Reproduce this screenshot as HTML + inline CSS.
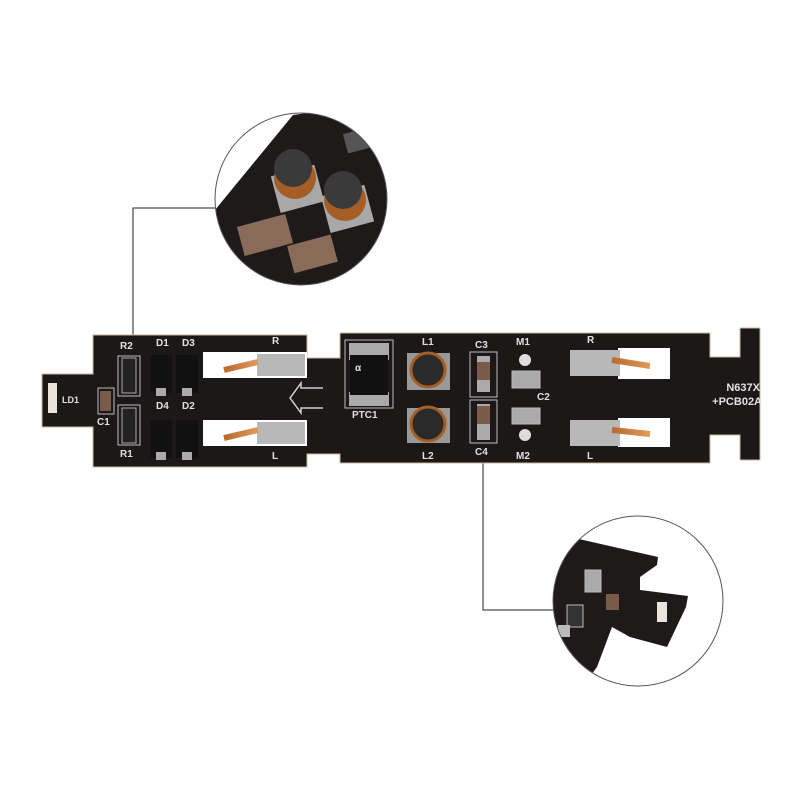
<!DOCTYPE html>
<html><head><meta charset="utf-8"><style>
html,body{margin:0;padding:0;background:#fff;width:800px;height:800px;overflow:hidden}
svg{display:block}
text{font-family:"Liberation Sans",sans-serif;fill:#e0e0e0;font-weight:bold}
</style></head><body>
<svg width="800" height="800" viewBox="0 0 800 800" xmlns="http://www.w3.org/2000/svg">
<defs>
<clipPath id="c1"><circle cx="301" cy="199" r="86"/></clipPath>
<clipPath id="c2"><circle cx="638" cy="601" r="85"/></clipPath>
<linearGradient id="cu" x1="0" x2="1"><stop offset="0" stop-color="#b86a30"/><stop offset="1" stop-color="#e09a5a"/></linearGradient>
</defs>
<!-- leader lines -->
<polyline points="215,208 133,208 133,362" fill="none" stroke="#222" stroke-width="1"/>
<polyline points="483,420 483,610 553,610" fill="none" stroke="#222" stroke-width="1"/>

<!-- board -->
<path d="M42,374 H93 V335 H307 V358 H340 V333 H710 V357 H740 V328 H760 V460 H740 V435 H710 V463 H340 V454 H307 V467 H93 V427 H42 Z" fill="#1c1818" stroke="#c8b89a" stroke-width="1"/>

<!-- windows left -->
<rect x="203" y="352" width="104" height="26" fill="#fff"/>
<rect x="203" y="420" width="104" height="26" fill="#fff"/>
<rect x="257" y="354" width="48" height="22" fill="#b8b8b8"/>
<rect x="257" y="422" width="48" height="22" fill="#b8b8b8"/>
<path d="M224,370 L258,362" stroke="url(#cu)" stroke-width="6" fill="none"/>
<path d="M224,438 L258,430" stroke="url(#cu)" stroke-width="6" fill="none"/>
<!-- windows right -->
<rect x="618" y="348" width="52" height="31" fill="#fff"/>
<rect x="618" y="418" width="52" height="29" fill="#fff"/>
<rect x="570" y="350" width="50" height="26" fill="#b8b8b8"/>
<rect x="570" y="420" width="50" height="26" fill="#b8b8b8"/>
<path d="M612,360 L650,366" stroke="url(#cu)" stroke-width="6" fill="none"/>
<path d="M612,430 L650,434" stroke="url(#cu)" stroke-width="6" fill="none"/>

<!-- left components -->
<rect x="48" y="383" width="9" height="30" fill="#e8e4dc"/>
<rect x="98" y="388" width="16" height="26" fill="none" stroke="#bbb"/>
<rect x="100" y="391" width="11" height="20" fill="#7a5a48"/>
<rect x="118" y="356" width="22" height="40" fill="none" stroke="#bbb"/>
<rect x="122" y="358" width="14" height="35" fill="#222" stroke="#aaa"/>
<rect x="118" y="405" width="22" height="40" fill="none" stroke="#bbb"/>
<rect x="122" y="408" width="14" height="35" fill="#222" stroke="#aaa"/>
<rect x="150" y="355" width="22" height="38" fill="#111"/>
<rect x="176" y="355" width="22" height="38" fill="#111"/>
<rect x="150" y="420" width="22" height="38" fill="#111"/>
<rect x="176" y="420" width="22" height="38" fill="#111"/>
<rect x="156" y="388" width="10" height="8" fill="#aaa"/><rect x="182" y="388" width="10" height="8" fill="#aaa"/>
<rect x="156" y="452" width="10" height="8" fill="#aaa"/><rect x="182" y="452" width="10" height="8" fill="#aaa"/>
<path d="M323,388 H301 V383 L290,398 L301,413 V408 H323" fill="none" stroke="#ccc" stroke-width="1.5"/>
<text x="120" y="349" font-size="10">R2</text>
<text x="156" y="346" font-size="10">D1</text>
<text x="182" y="346" font-size="10">D3</text>
<text x="272" y="344" font-size="10">R</text>
<text x="62" y="403" font-size="9">LD1</text>
<text x="97" y="425" font-size="10">C1</text>
<text x="156" y="409" font-size="10">D4</text>
<text x="182" y="409" font-size="10">D2</text>
<text x="120" y="457" font-size="10">R1</text>
<text x="272" y="459" font-size="10">L</text>

<!-- right components -->
<rect x="345" y="340" width="48" height="68" fill="none" stroke="#bbb"/>
<rect x="349" y="343" width="40" height="17" fill="#aaa"/>
<rect x="349" y="392" width="40" height="14" fill="#aaa"/>
<rect x="350" y="355" width="38" height="40" fill="#111"/>
<text x="355" y="371" font-size="10" fill="#ddd">α</text>
<text x="352" y="418" font-size="10">PTC1</text>
<rect x="407" y="353" width="43" height="37" fill="#999"/>
<circle cx="428" cy="370" r="17" fill="#2a2a2a" stroke="#a55e26" stroke-width="3"/>
<rect x="407" y="408" width="43" height="35" fill="#999"/>
<circle cx="428" cy="424" r="17" fill="#2a2a2a" stroke="#a55e26" stroke-width="3"/>
<text x="422" y="345" font-size="10">L1</text>
<text x="422" y="459" font-size="10">L2</text>
<rect x="470" y="352" width="27" height="45" fill="none" stroke="#bbb"/>
<rect x="477" y="356" width="13" height="36" fill="#aaa"/><rect x="477" y="362" width="13" height="18" fill="#7a5a48"/>
<rect x="470" y="400" width="27" height="43" fill="none" stroke="#bbb"/>
<rect x="477" y="404" width="13" height="36" fill="#aaa"/><rect x="477" y="406" width="13" height="18" fill="#7a5a48"/>
<text x="475" y="348" font-size="10">C3</text>
<text x="475" y="455" font-size="10">C4</text>
<circle cx="525" cy="360" r="6" fill="#ddd"/>
<circle cx="525" cy="435" r="6" fill="#ddd"/>
<rect x="512" y="371" width="28" height="17" fill="#aaa" stroke="#bbb"/>
<rect x="512" y="408" width="28" height="16" fill="#aaa" stroke="#bbb"/>
<text x="516" y="345" font-size="10">M1</text>
<text x="537" y="400" font-size="10">C2</text>
<text x="516" y="459" font-size="10">M2</text>
<text x="587" y="343" font-size="10">R</text>
<text x="587" y="459" font-size="10">L</text>
<text x="760" y="391" font-size="11" text-anchor="end">N637X</text>
<text x="762" y="405" font-size="11" text-anchor="end">+PCB02A</text>

<!-- top circle -->
<g clip-path="url(#c1)">
<rect x="200" y="100" width="200" height="200" fill="#fff"/>
<path d="M215,210 L293,115 L400,100 L400,300 L200,300 Z" fill="#1e1a1a"/>
<rect x="275" y="170" width="45" height="38" fill="#a8a8a8" transform="rotate(-15 297 189)"/>
<rect x="325" y="190" width="45" height="38" fill="#a8a8a8" transform="rotate(-15 347 209)"/>
<circle cx="295" cy="178" r="21" fill="#a55e26"/><circle cx="293" cy="168" r="19" fill="#3a3a3a"/>
<circle cx="345" cy="200" r="21" fill="#a55e26"/><circle cx="343" cy="190" r="19" fill="#3a3a3a"/>
<rect x="240" y="220" width="50" height="30" fill="#8a6a58" transform="rotate(-15 265 235)"/>
<rect x="290" y="240" width="45" height="28" fill="#8a6a58" transform="rotate(-15 312 254)"/>
<rect x="345" y="130" width="30" height="20" fill="#555" transform="rotate(-15 360 140)"/>
</g>
<circle cx="301" cy="199" r="86" fill="none" stroke="#555" stroke-width="1"/>

<!-- bottom circle -->
<g clip-path="url(#c2)">
<rect x="540" y="510" width="200" height="190" fill="#fff"/>
<path d="M540,530 L570,537 L658,557 L657,565 L640,577 L640,590 L688,596 L686,607 L667,647 L630,637 L612,627 L597,667 L580,690 L540,690 Z" fill="#1e1a1a"/>
<rect x="585" y="570" width="16" height="22" fill="#aaa" stroke="#bbb"/>
<rect x="606" y="594" width="13" height="16" fill="#7a5a48"/>
<rect x="657" y="602" width="10" height="20" fill="#e8e4dc"/>
<rect x="567" y="605" width="16" height="22" fill="#333" stroke="#bbb"/>
<rect x="558" y="625" width="12" height="12" fill="#bbb"/>
</g>
<circle cx="638" cy="601" r="85" fill="none" stroke="#555" stroke-width="1"/>
</svg>
</body></html>
